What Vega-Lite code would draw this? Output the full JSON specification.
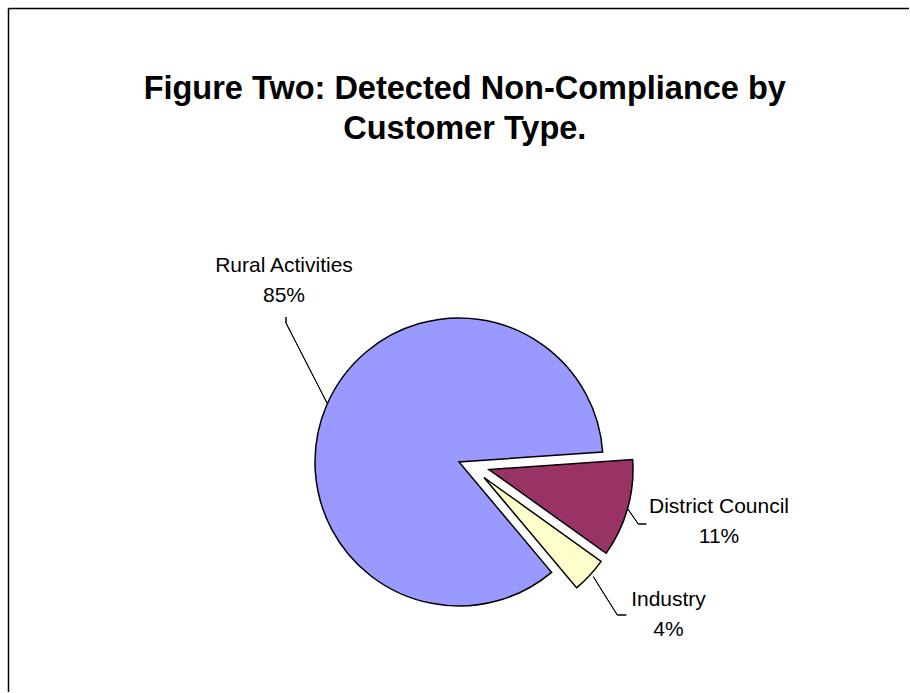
{
  "$schema": "https://vega.github.io/schema/vega-lite/v6.json",
  "autosize": {"type": "fit", "contains": "padding"},
  "width": 910,
  "height": 693,
  "padding": {"left": 7.5, "top": 7.5, "right": 0, "bottom": 0},
  "background": "white",
  "config": {"view": {"stroke": null}, "font": "Liberation Sans"},
  "title": {
    "text": ["Figure Two: Detected Non-Compliance by", "Customer Type."],
    "fontSize": 32.5,
    "font": "Liberation Sans",
    "fontWeight": "bold",
    "color": "black",
    "anchor": "middle",
    "frame": "group",
    "offset": -164,
    "baseline": "alphabetic",
    "lineHeight": 40,
    "dx": 6
  },
  "data": {
    "values": [
      {"type": "District Council", "value": 11, "order": 1},
      {"type": "Industry", "value": 4, "order": 2},
      {"type": "Rural Activities", "value": 85, "order": 3}
    ]
  },
  "transform": [
    {"stack": "value", "groupby": [], "sort": [{"field": "order", "order": "ascending"}], "as": ["v0", "v1"]},
    {"calculate": "[datum.type, datum.value + '%']", "as": "label"}
  ],
  "layer": [
    {
      "transform": [{"filter": "datum.type === 'Rural Activities'"}],
      "mark": {"type": "rule", "stroke": "black", "strokeWidth": 1.5},
      "encoding": {"y": {"value": 0}}
    },
    {
      "transform": [{"filter": "datum.type === 'Rural Activities'"}],
      "mark": {"type": "rule", "stroke": "black", "strokeWidth": 1.5},
      "encoding": {"x": {"value": 0}}
    },
    {
      "transform": [{"filter": "datum.type === 'Rural Activities'"}],
      "mark": {"type": "arc", "radius": 144, "stroke": "black", "strokeWidth": 1.5, "xOffset": 0.25, "yOffset": 111.75},
      "encoding": {
        "theta": {"field": "v0", "type": "quantitative", "stack": null, "scale": {"domain": [0, 100], "range": [1.501, 7.7842], "zero": false}},
        "theta2": {"field": "v1"},
        "color": {"field": "type", "type": "nominal", "legend": null, "scale": {"domain": ["District Council", "Industry", "Rural Activities"], "range": ["#993366", "#FFFFCC", "#9999FF"]}}
      }
    },
    {
      "transform": [{"filter": "datum.type === 'District Council'"}],
      "mark": {"type": "arc", "radius": 144, "stroke": "black", "strokeWidth": 1.5, "xOffset": 30.25, "yOffset": 119.25},
      "encoding": {
        "theta": {"field": "v0", "type": "quantitative", "stack": null, "scale": {"domain": [0, 100], "range": [1.501, 7.7842], "zero": false}},
        "theta2": {"field": "v1"},
        "color": {"field": "type", "type": "nominal", "legend": null}
      }
    },
    {
      "transform": [{"filter": "datum.type === 'Industry'"}],
      "mark": {"type": "arc", "radius": 144, "stroke": "black", "strokeWidth": 1.5, "xOffset": 25.25, "yOffset": 127.25},
      "encoding": {
        "theta": {"field": "v0", "type": "quantitative", "stack": null, "scale": {"domain": [0, 100], "range": [1.501, 7.7842], "zero": false}},
        "theta2": {"field": "v1"},
        "color": {"field": "type", "type": "nominal", "legend": null}
      }
    },
    {
      "transform": [{"filter": "datum.type === 'Rural Activities'"}],
      "mark": {"type": "text", "radius": 263.1, "thetaOffset": 3.1121, "xOffset": 0.25, "yOffset": 111.75, "fontSize": 21, "lineHeight": 30, "align": "center", "baseline": "middle", "color": "black"},
      "encoding": {
        "theta": {"field": "v0", "type": "quantitative", "stack": null, "scale": {"domain": [0, 100], "range": [1.501, 7.7842], "zero": false}},
        "text": {"field": "label"}
      }
    },
    {
      "transform": [{"filter": "datum.type === 'District Council'"}],
      "mark": {"type": "text", "radius": 263.8, "thetaOffset": 0.2393, "xOffset": 0.25, "yOffset": 111.75, "fontSize": 21, "lineHeight": 30, "align": "center", "baseline": "middle", "color": "black"},
      "encoding": {
        "theta": {"field": "v0", "type": "quantitative", "stack": null, "scale": {"domain": [0, 100], "range": [1.501, 7.7842], "zero": false}},
        "text": {"field": "label"}
      }
    },
    {
      "transform": [{"filter": "datum.type === 'Industry'"}],
      "mark": {"type": "text", "radius": 250.6, "thetaOffset": -0.0405, "xOffset": 0.25, "yOffset": 111.75, "fontSize": 21, "lineHeight": 30, "align": "center", "baseline": "middle", "color": "black"},
      "encoding": {
        "theta": {"field": "v0", "type": "quantitative", "stack": null, "scale": {"domain": [0, 100], "range": [1.501, 7.7842], "zero": false}},
        "text": {"field": "label"}
      }
    },
    {
      "transform": [{"filter": "datum.type === 'Rural Activities'"}],
      "mark": {"type": "arc", "filled": false, "stroke": "black", "strokeWidth": 1, "radius": 90, "radius2": 0, "thetaOffset": 3.3662, "theta2Offset": 3.3662, "xOffset": -131.75, "yOffset": 52.75},
      "encoding": {
        "theta": {"field": "v0", "type": "quantitative", "stack": null, "scale": {"domain": [0, 100], "range": [1.501, 7.7842], "zero": false}},
        "theta2": {"field": "v0"}
      }
    },
    {
      "transform": [{"filter": "datum.type === 'Rural Activities'"}],
      "mark": {"type": "arc", "filled": false, "stroke": "black", "strokeWidth": 1, "radius": 6, "radius2": 0, "thetaOffset": -2.4435, "theta2Offset": -2.4435, "xOffset": -172.75, "yOffset": -27.25},
      "encoding": {
        "theta": {"field": "v0", "type": "quantitative", "stack": null, "scale": {"domain": [0, 100], "range": [1.501, 7.7842], "zero": false}},
        "theta2": {"field": "v0"}
      }
    },
    {
      "transform": [{"filter": "datum.type === 'District Council'"}],
      "mark": {"type": "arc", "filled": false, "stroke": "black", "strokeWidth": 1, "radius": 19.2, "radius2": 0, "thetaOffset": 1.0294, "theta2Offset": 1.0294, "xOffset": 168.55, "yOffset": 158.05},
      "encoding": {
        "theta": {"field": "v0", "type": "quantitative", "stack": null, "scale": {"domain": [0, 100], "range": [1.501, 7.7842], "zero": false}},
        "theta2": {"field": "v0"}
      }
    },
    {
      "transform": [{"filter": "datum.type === 'District Council'"}],
      "mark": {"type": "arc", "filled": false, "stroke": "black", "strokeWidth": 1, "radius": 8, "radius2": 0, "thetaOffset": 0.0698, "theta2Offset": 0.0698, "xOffset": 179.55, "yOffset": 173.75},
      "encoding": {
        "theta": {"field": "v0", "type": "quantitative", "stack": null, "scale": {"domain": [0, 100], "range": [1.501, 7.7842], "zero": false}},
        "theta2": {"field": "v0"}
      }
    },
    {
      "transform": [{"filter": "datum.type === 'Industry'"}],
      "mark": {"type": "arc", "filled": false, "stroke": "black", "strokeWidth": 1, "radius": 45.2, "radius2": 0, "thetaOffset": 0.3897, "theta2Offset": 0.3897, "xOffset": 134.55, "yOffset": 226.45},
      "encoding": {
        "theta": {"field": "v0", "type": "quantitative", "stack": null, "scale": {"domain": [0, 100], "range": [1.501, 7.7842], "zero": false}},
        "theta2": {"field": "v0"}
      }
    },
    {
      "transform": [{"filter": "datum.type === 'Industry'"}],
      "mark": {"type": "arc", "filled": false, "stroke": "black", "strokeWidth": 1, "radius": 9, "radius2": 0, "thetaOffset": -0.6213, "theta2Offset": -0.6213, "xOffset": 158.55, "yOffset": 264.75},
      "encoding": {
        "theta": {"field": "v0", "type": "quantitative", "stack": null, "scale": {"domain": [0, 100], "range": [1.501, 7.7842], "zero": false}},
        "theta2": {"field": "v0"}
      }
    }
  ]
}
